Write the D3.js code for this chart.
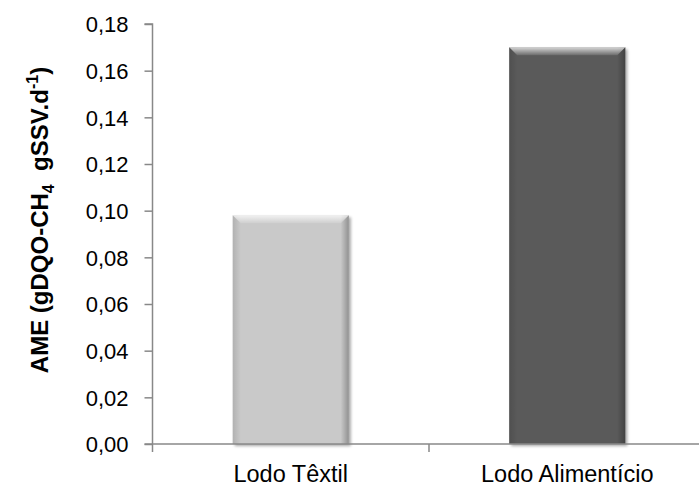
<!DOCTYPE html>
<html lang="pt">
<head>
  <meta charset="UTF-8">
  <title>AME</title>
  <style>
    body { margin: 0; background: #fff; }
    svg text { font-family: "Liberation Sans", Arial, sans-serif; fill: #000; }
  </style>
  <script src="https://cdn.jsdelivr.net/npm/d3@7"></script>
</head>
<body>
<svg width="699" height="488"></svg>
<script>
var categories = ["Lodo Têxtil", "Lodo Alimentício"];
var values = [0.098, 0.17];
var barColors = ["#c9c9c9", "#5a5a5a"];
var yTicks = [0, 0.02, 0.04, 0.06, 0.08, 0.10, 0.12, 0.14, 0.16, 0.18];

var svg = d3.select("svg");
var plotLeft = 152.5, plotTop = 24, plotBottom = 444;

var y = d3.scaleLinear().domain([0, 0.18]).range([plotBottom, plotTop]);
var x = d3.scaleBand().domain(categories).range([plotLeft, 705.5])
    .paddingInner(0.58).paddingOuter(0.29);
var step = x.step();

// drop shadow + bevel gradients
var defs = svg.append("defs");
var f = defs.append("filter").attr("id", "shadow")
    .attr("x", "-10%").attr("y", "-10%").attr("width", "130%").attr("height", "130%");
f.append("feGaussianBlur").attr("in", "SourceAlpha").attr("stdDeviation", 1.5);
f.append("feOffset").attr("dx", 2).attr("dy", 2).attr("result", "b");
f.append("feComponentTransfer").append("feFuncA").attr("type", "linear").attr("slope", 0.35);
var m = f.append("feMerge");
m.append("feMergeNode");
m.append("feMergeNode").attr("in", "SourceGraphic");

var side = defs.append("linearGradient").attr("id", "side");
side.append("stop").attr("offset", "0").attr("stop-color", "#000").attr("stop-opacity", 0.12);
side.append("stop").attr("offset", "0.07").attr("stop-color", "#000").attr("stop-opacity", 0);
side.append("stop").attr("offset", "0.93").attr("stop-color", "#000").attr("stop-opacity", 0);
side.append("stop").attr("offset", "1").attr("stop-color", "#000").attr("stop-opacity", 0.28);

var topG = defs.append("linearGradient").attr("id", "topbev")
    .attr("x1", 0).attr("y1", 0).attr("x2", 0).attr("y2", 1);
topG.append("stop").attr("offset", "0").attr("stop-color", "#fff").attr("stop-opacity", 0.75);
topG.append("stop").attr("offset", "1").attr("stop-color", "#fff").attr("stop-opacity", 0.1);

// y axis
var yAxis = svg.append("g").attr("transform", "translate(" + plotLeft + ",0)")
    .call(d3.axisLeft(y).tickValues(yTicks).tickSize(8).tickPadding(16)
      .tickFormat(function(d) { return d3.format(".2f")(d).replace(".", ","); }));
yAxis.select(".domain").attr("d", "M-8," + plotTop + "H0V" + plotBottom);
yAxis.selectAll("path,line").attr("stroke", "#888").attr("stroke-width", 1.5);
yAxis.selectAll("text").attr("font-size", 22).attr("dy", "0.35em");

// bars
var bars = svg.append("g").selectAll("g").data(categories).enter().append("g");
bars.append("rect")
    .attr("x", function(d) { return x(d); })
    .attr("y", function(d, i) { return y(values[i]); })
    .attr("width", x.bandwidth())
    .attr("height", function(d, i) { return y(0) - y(values[i]); })
    .attr("fill", function(d, i) { return barColors[i]; })
    .attr("filter", "url(#shadow)");
bars.append("rect")
    .attr("x", function(d) { return x(d); })
    .attr("y", function(d, i) { return y(values[i]); })
    .attr("width", x.bandwidth())
    .attr("height", function(d, i) { return y(0) - y(values[i]); })
    .attr("fill", "url(#side)");
bars.append("path")
    .attr("d", function(d, i) {
      var x0 = x(d), x1 = x(d) + x.bandwidth(), t = y(values[i]), b = 8;
      return "M" + x0 + "," + t + "H" + x1 + "L" + (x1 - b) + "," + (t + b) + "H" + (x0 + b) + "Z";
    })
    .attr("fill", "url(#topbev)");

// x axis
var xAxis = svg.append("g").attr("transform", "translate(0," + plotBottom + ")")
    .call(d3.axisBottom(x).tickSize(0).tickPadding(21));
xAxis.select(".domain").remove();
xAxis.selectAll("text").attr("font-size", 23.5);
var bounds = [0, 1, 2].map(function(i) { return plotLeft + i * step; });
svg.append("line").attr("x1", plotLeft - 8).attr("x2", 705.5)
    .attr("y1", plotBottom).attr("y2", plotBottom).attr("stroke", "#888").attr("stroke-width", 1.5);
svg.append("g").selectAll("line").data(bounds).enter().append("line")
    .attr("x1", function(d) { return d; }).attr("x2", function(d) { return d; })
    .attr("y1", plotBottom).attr("y2", plotBottom + 8)
    .attr("stroke", "#888").attr("stroke-width", 1.5);

// y title
var title = svg.append("text")
    .attr("transform", "translate(48,220) rotate(-90)")
    .attr("text-anchor", "middle")
    .attr("font-size", 24).attr("font-weight", "bold");
title.append("tspan").text("AME (gDQO-CH");
title.append("tspan").text("4").attr("font-size", 16).attr("dy", 6);
title.append("tspan").text("  gSSV.d").attr("dy", -6).style("white-space", "pre");
title.append("tspan").text("-1").attr("font-size", 16).attr("dy", -10);
title.append("tspan").text(")").attr("dy", 10);
</script>
</body>
</html>
